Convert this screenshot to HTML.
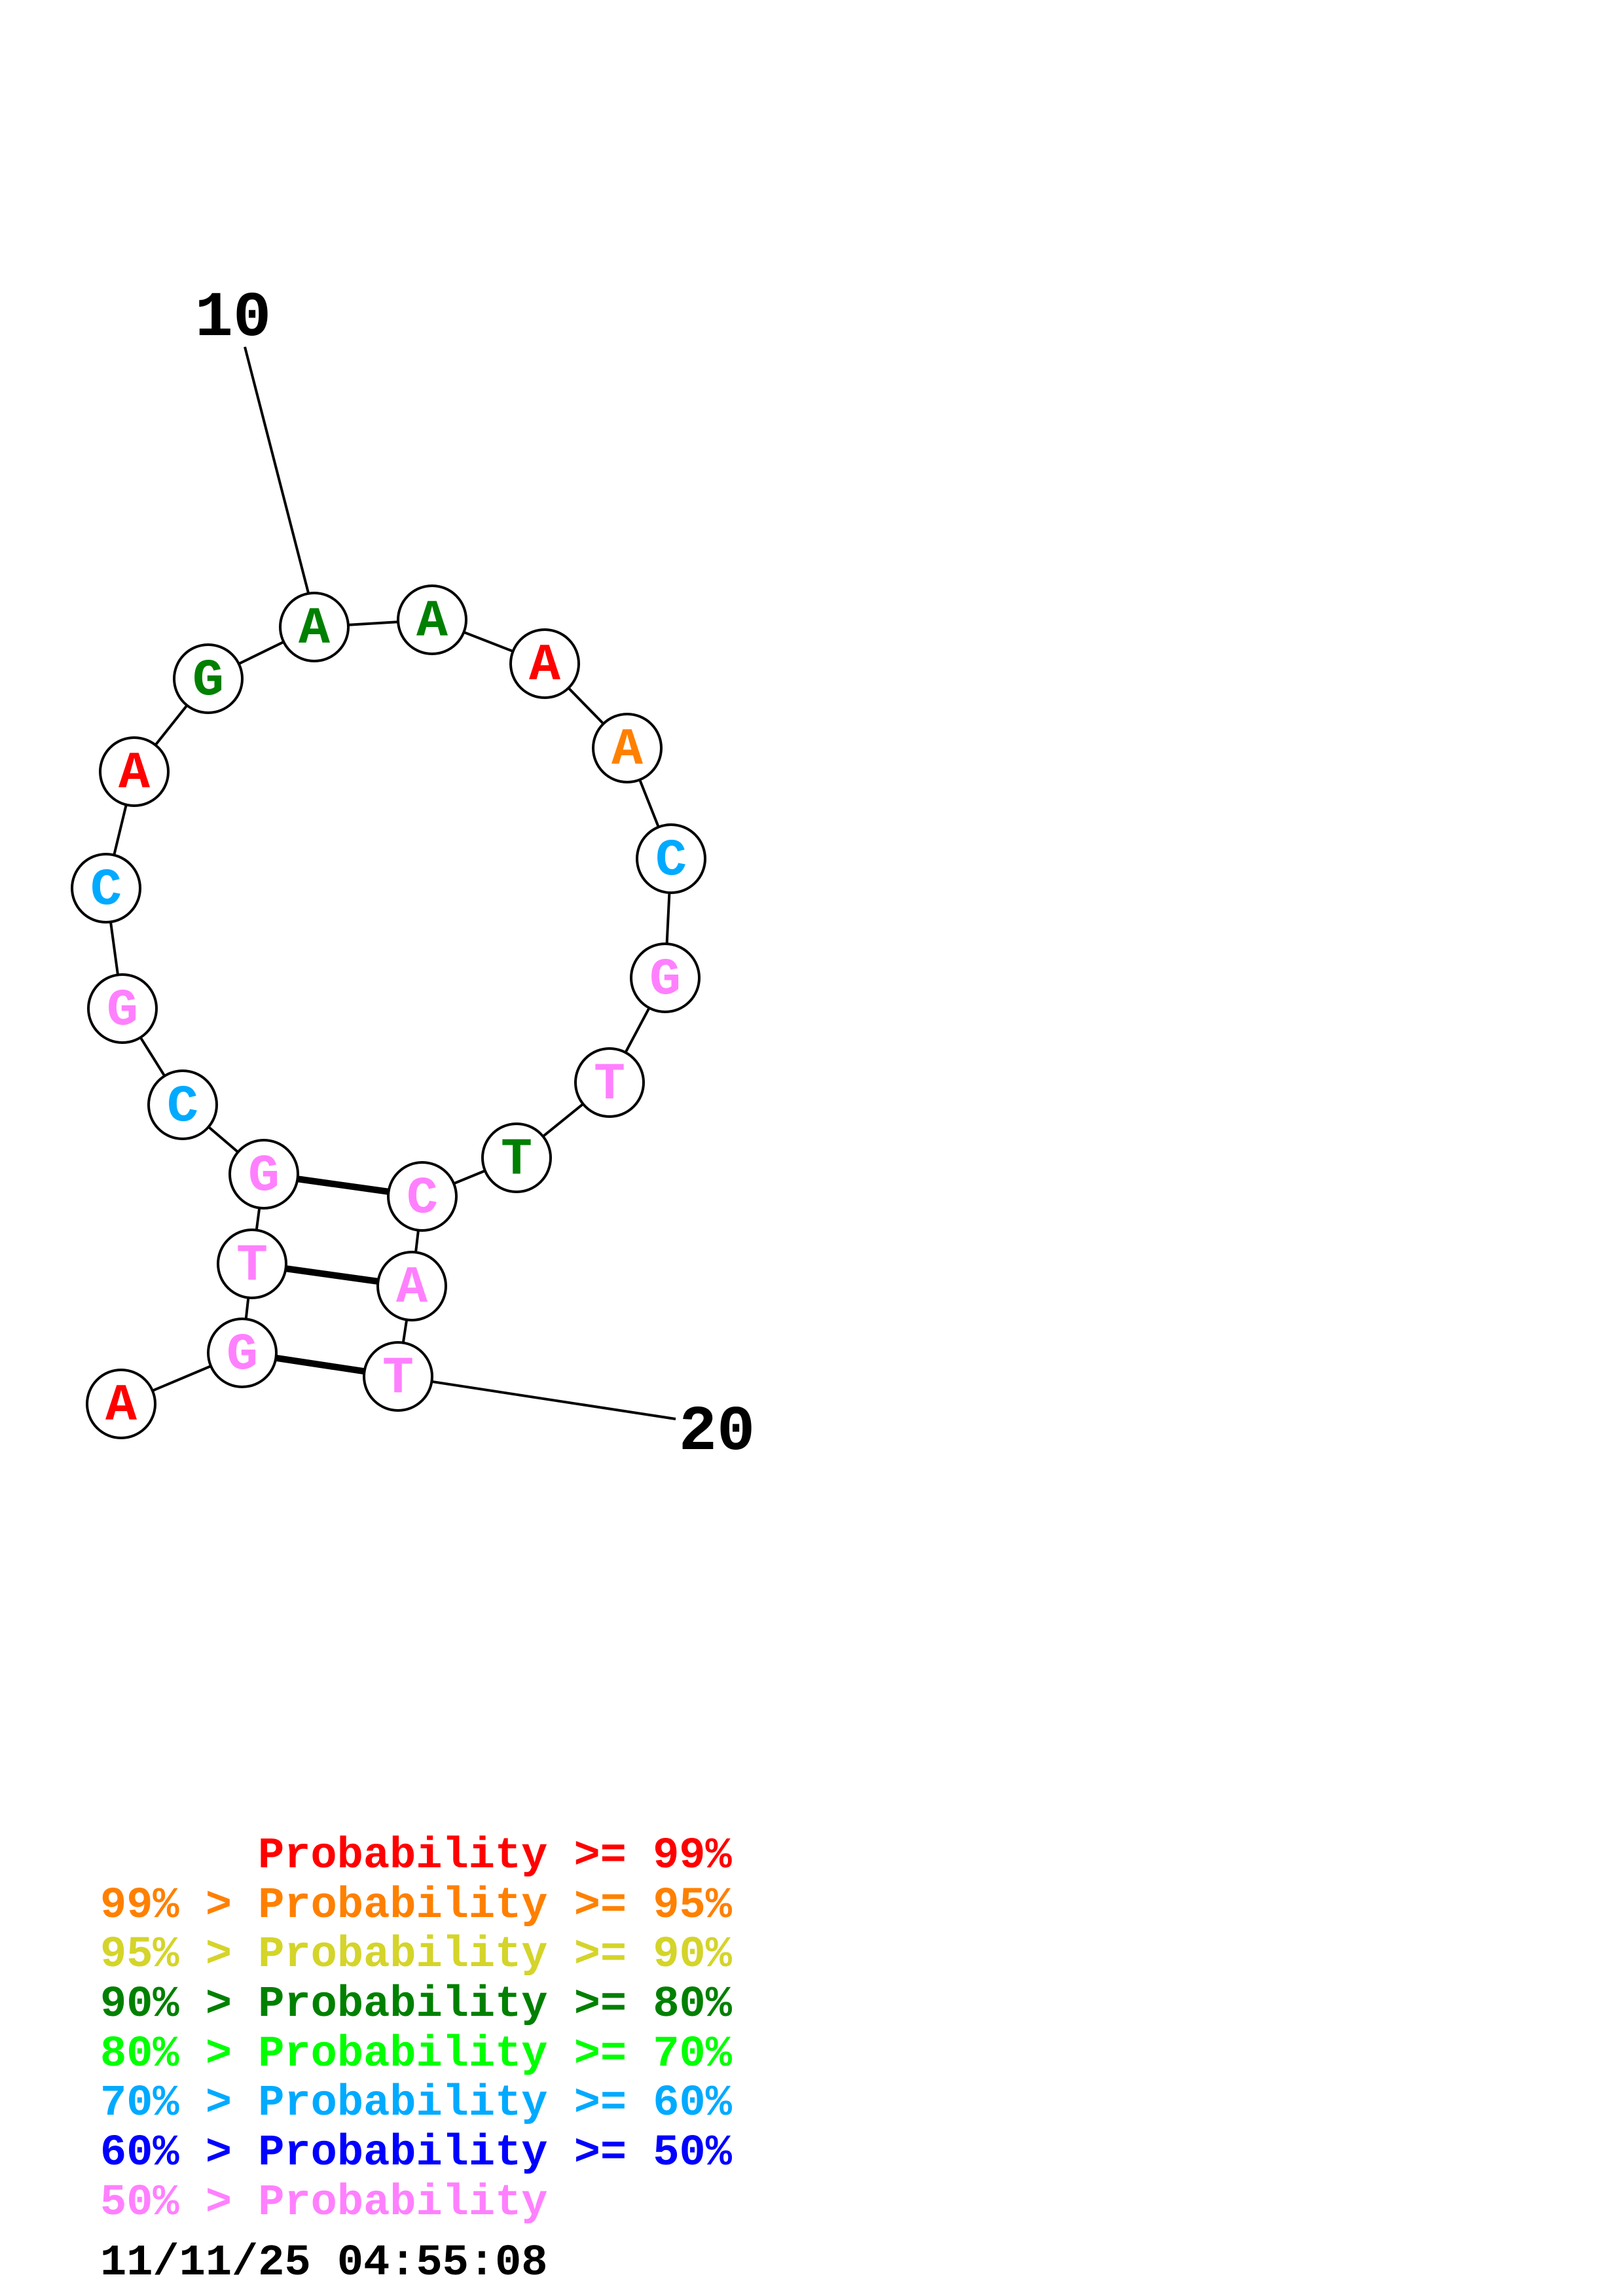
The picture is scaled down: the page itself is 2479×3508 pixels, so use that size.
<!DOCTYPE html>
<html><head><meta charset="utf-8"><style>
html,body{margin:0;padding:0;background:#fff;}
svg{display:block;}
text{font-family:"Liberation Mono","DejaVu Sans Mono",monospace;font-weight:bold;white-space:pre;}
</style></head><body>
<svg width="2479" height="3508" viewBox="0 0 2479 3508" xmlns="http://www.w3.org/2000/svg">
<rect width="2479" height="3508" fill="#fff"/>
<g stroke="#000" stroke-width="4" fill="none">
<line x1="374" y1="530" x2="471" y2="906"/>
<line x1="608" y1="2103" x2="1032" y2="2168"/>
<polyline points="185,2145 370,2067 385,1931 403,1794 279,1688 187,1541 162,1357 205,1179 318,1037 480,958 660,947 832,1014 958,1143 1025,1312 1016,1494 931,1654 789,1769 645,1828 629,1965 608,2103"/>
</g>
<g stroke="#000" stroke-width="10">
<line x1="403" y1="1794" x2="645" y2="1828"/>
<line x1="385" y1="1931" x2="629" y2="1965"/>
<line x1="370" y1="2067" x2="608" y2="2103"/>
</g>
<g fill="#fff" stroke="#000" stroke-width="4">
<circle cx="480" cy="958" r="52"/><circle cx="660" cy="947" r="52"/><circle cx="832" cy="1014" r="52"/><circle cx="958" cy="1143" r="52"/><circle cx="1025" cy="1312" r="52"/><circle cx="1016" cy="1494" r="52"/><circle cx="931" cy="1654" r="52"/><circle cx="789" cy="1769" r="52"/><circle cx="645" cy="1828" r="52"/><circle cx="629" cy="1965" r="52"/><circle cx="608" cy="2103" r="52"/><circle cx="370" cy="2067" r="52"/><circle cx="185" cy="2145" r="52"/><circle cx="385" cy="1931" r="52"/><circle cx="403" cy="1794" r="52"/><circle cx="279" cy="1688" r="52"/><circle cx="187" cy="1541" r="52"/><circle cx="162" cy="1357" r="52"/><circle cx="205" cy="1179" r="52"/><circle cx="318" cy="1037" r="52"/>
</g>
<g font-size="80" text-anchor="middle">
<text x="480" y="982" fill="#008000">A</text>
<text x="660" y="971" fill="#008000">A</text>
<text x="832" y="1038" fill="#ff0000">A</text>
<text x="958" y="1167" fill="#ff8000">A</text>
<text x="1025" y="1336" fill="#00aaff">C</text>
<text x="1016" y="1518" fill="#ff80ff">G</text>
<text x="931" y="1678" fill="#ff80ff">T</text>
<text x="789" y="1793" fill="#008000">T</text>
<text x="645" y="1852" fill="#ff80ff">C</text>
<text x="629" y="1989" fill="#ff80ff">A</text>
<text x="608" y="2127" fill="#ff80ff">T</text>
<text x="370" y="2091" fill="#ff80ff">G</text>
<text x="185" y="2169" fill="#ff0000">A</text>
<text x="385" y="1955" fill="#ff80ff">T</text>
<text x="403" y="1818" fill="#ff80ff">G</text>
<text x="279" y="1712" fill="#00aaff">C</text>
<text x="187" y="1565" fill="#ff80ff">G</text>
<text x="162" y="1381" fill="#00aaff">C</text>
<text x="205" y="1203" fill="#ff0000">A</text>
<text x="318" y="1061" fill="#008000">G</text>
</g>
<g font-size="97" fill="#000" text-anchor="middle">
<text x="356" y="512">10</text>
<text x="1095" y="2214">20</text>
</g>
<g font-size="67">
<text x="394" y="2853" fill="#ff0000">Probability &gt;= 99%</text>
<text x="153" y="2929" fill="#ff8000">99% &gt; Probability &gt;= 95%</text>
<text x="153" y="3004" fill="#d4d42a">95% &gt; Probability &gt;= 90%</text>
<text x="153" y="3080" fill="#008000">90% &gt; Probability &gt;= 80%</text>
<text x="153" y="3156" fill="#00ff00">80% &gt; Probability &gt;= 70%</text>
<text x="153" y="3231" fill="#00aaff">70% &gt; Probability &gt;= 60%</text>
<text x="153" y="3307" fill="#0000ff">60% &gt; Probability &gt;= 50%</text>
<text x="153" y="3383" fill="#ff80ff">50% &gt; Probability</text>
<text x="153" y="3475" fill="#000">11/11/25 04:55:08</text>
</g>
</svg>
</body></html>
